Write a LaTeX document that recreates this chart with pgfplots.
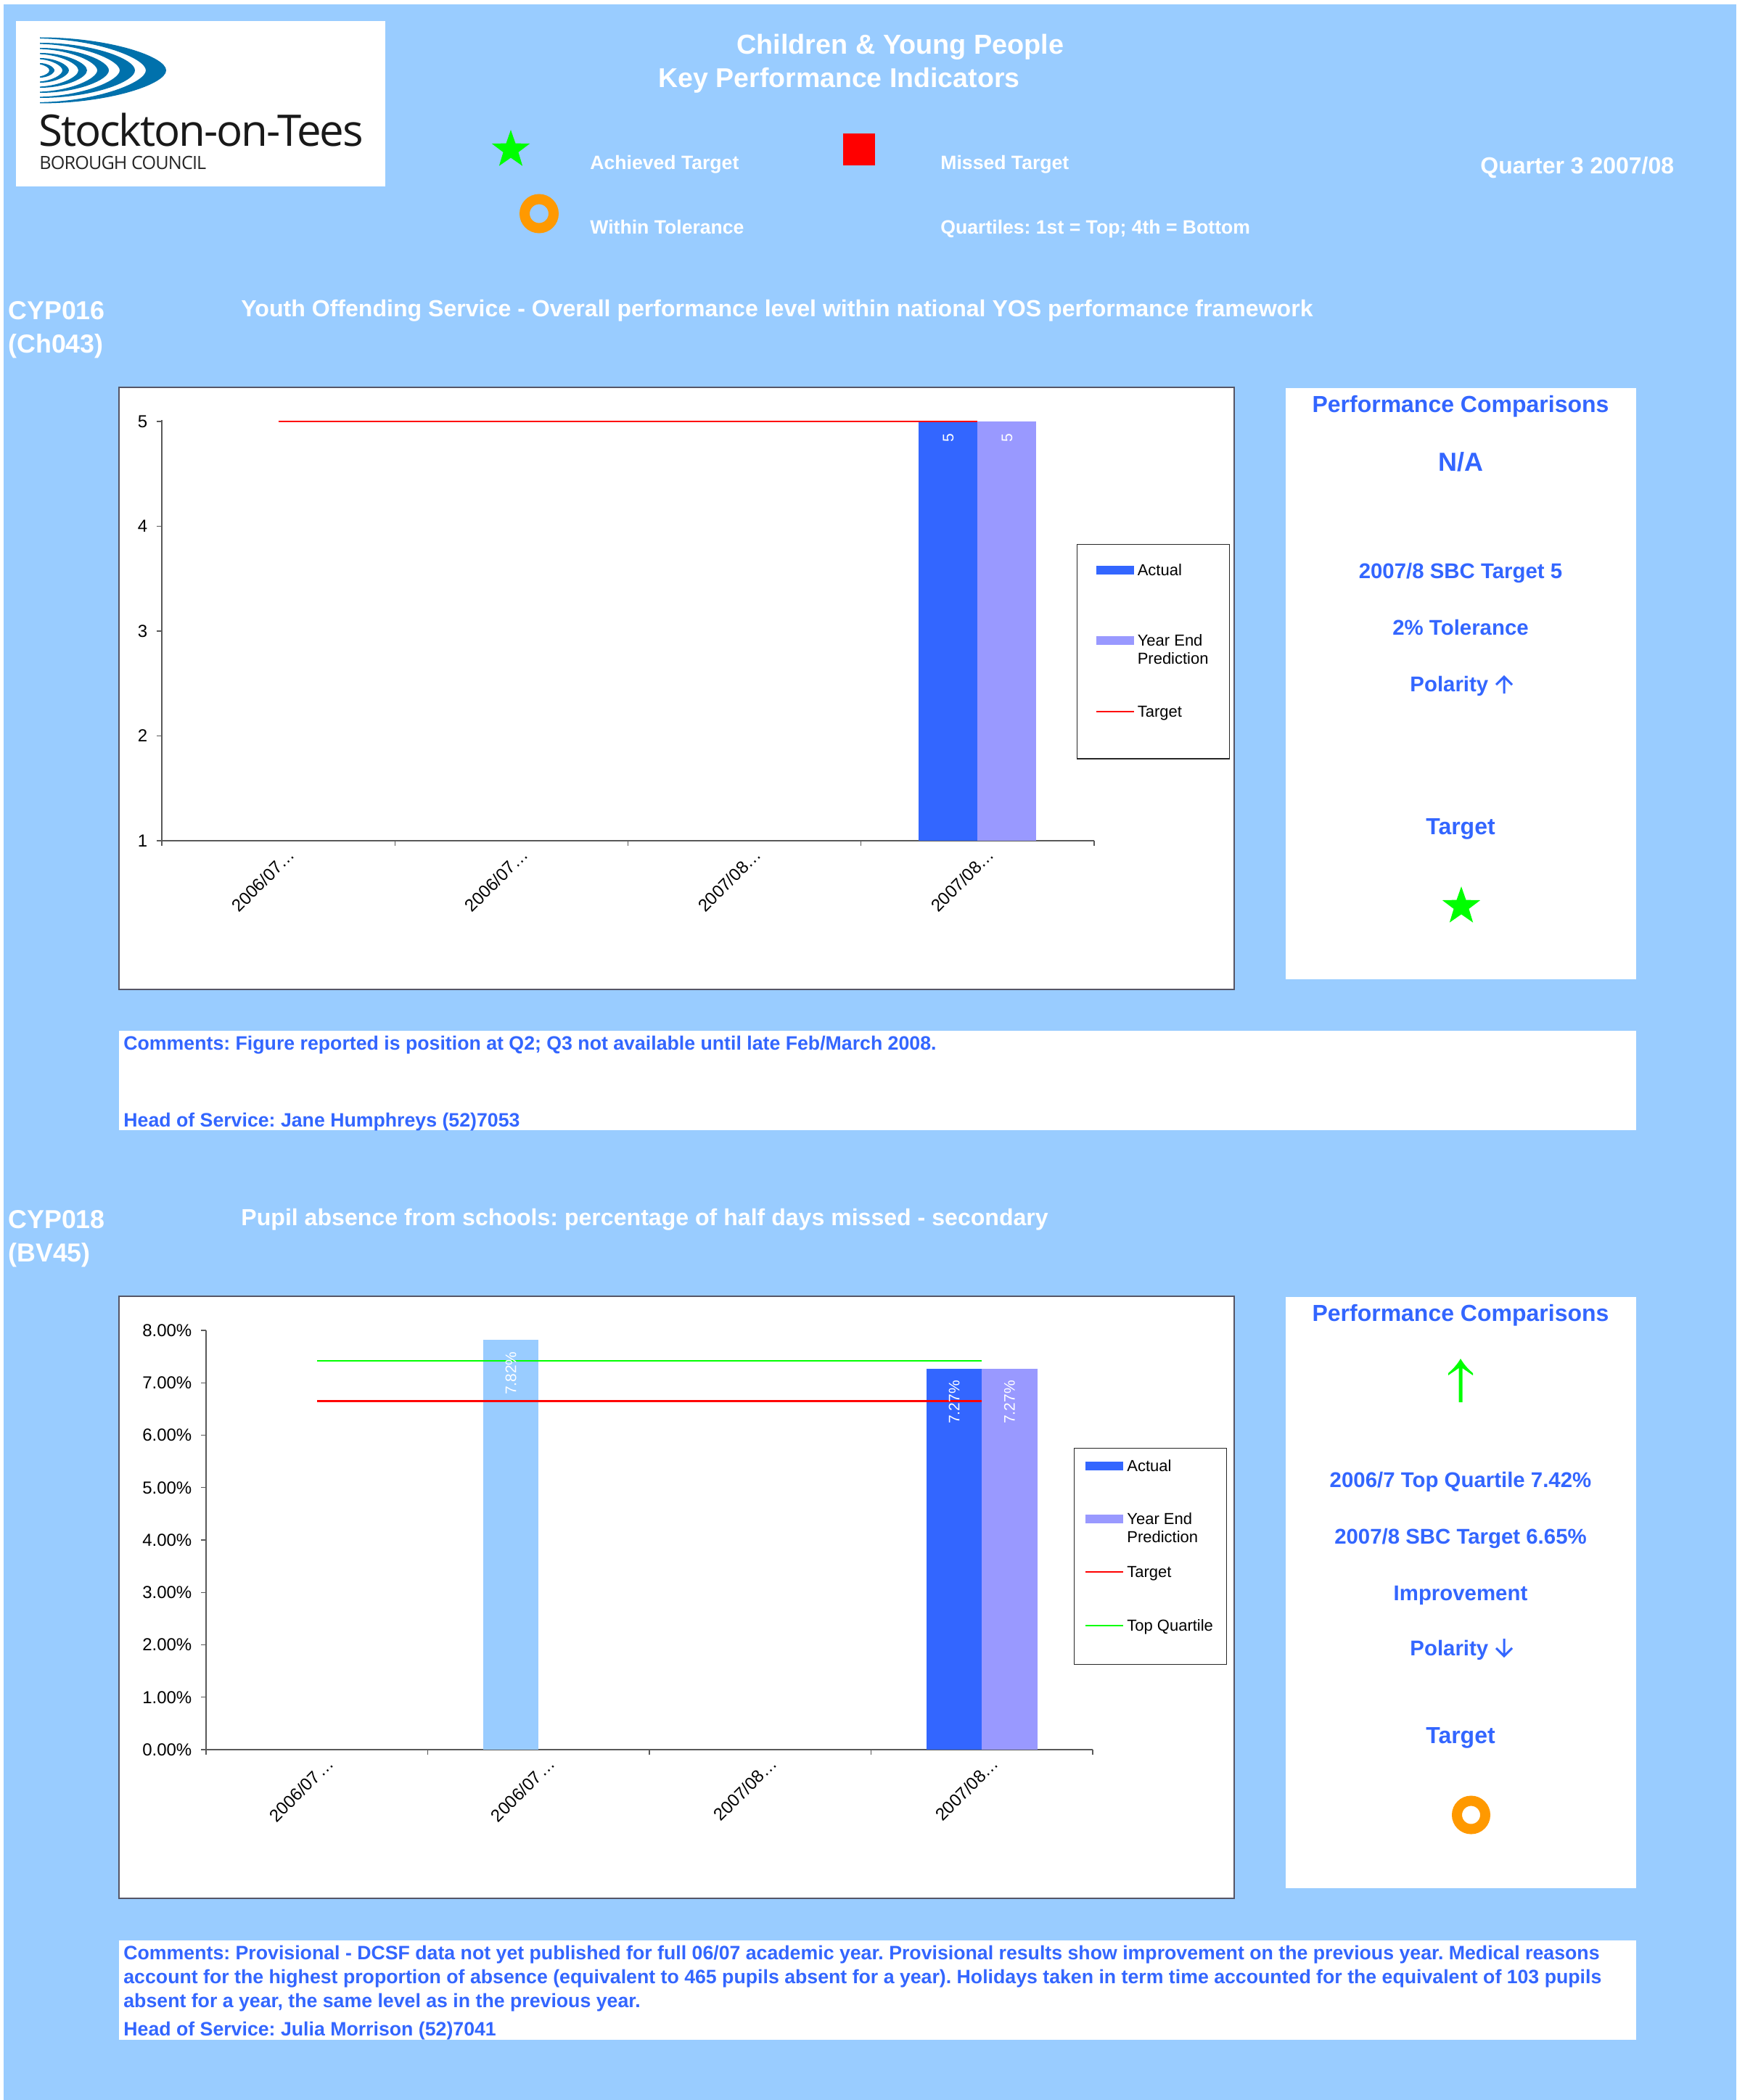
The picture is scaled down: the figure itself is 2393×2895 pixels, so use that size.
\documentclass[border=0pt]{standalone}
\usepackage{fontspec}
\setmainfont{Liberation Sans}
\newfontfamily\logofont[LetterSpace=-3.5]{Open Sans}
\usepackage{pgfplots}
\pgfplotsset{compat=1.18}
\usetikzlibrary{shapes.geometric}
\frenchspacing

\definecolor{pagebg}{HTML}{99CCFF}
\definecolor{kpiblue}{HTML}{3366FF}
\definecolor{yearend}{HTML}{9999FF}
\definecolor{kpigreen}{HTML}{00FF00}
\definecolor{kpired}{HTML}{FF0000}
\definecolor{kpiorange}{HTML}{FF9900}
\definecolor{logoblue}{HTML}{0071AC}
\definecolor{framegray}{HTML}{555566}

% page text: x, y (baseline, in pixels of the reference), size, text
\newcommand{\wtxt}[4]{\node[anchor=base west,inner sep=0pt,text=white,font=\fontsize{#3}{#3}\selectfont\bfseries] at (#1,#2) {#4};}
\newcommand{\btxt}[4]{\node[anchor=base west,inner sep=0pt,text=kpiblue,font=\fontsize{#3}{#3}\selectfont\bfseries] at (#1,#2) {#4};}
\newcommand{\ctxt}[4]{\node[anchor=base,inner sep=0pt,text=kpiblue,font=\fontsize{#3}{#3}\selectfont\bfseries] at (#1,#2) {#4};}
\newcommand{\kstar}[2]{\node[star,star points=5,star point ratio=2.5,fill=kpigreen,minimum size=27.5pt,inner sep=0pt] at (#1,#2) {};}
\newcommand{\crescent}[3]{\fill[logoblue] (55,97-#1) .. controls ({55+0.55*(#2-55)},97-#1) and (#2,{97-0.42*#1}) .. (#2,97)
  .. controls (#2,{97+0.42*#1}) and ({55+0.55*(#2-55)},97+#1) .. (55,97+#1) -- (55,{97+#1-1.6})
  .. controls ({55+0.55*(#3-55)},{97+#1-3}) and (#3,{97+0.36*#1}) .. (#3,97)
  .. controls (#3,{97-0.36*#1}) and ({55+0.55*(#3-55)},{97-#1+3}) .. (55,{97-#1+1.6}) -- cycle;}

\newcommand{\legtwo}[2]{\begin{tabular}[t]{@{}l@{}}#1\\#2\end{tabular}}
\newcommand{\pctlabel}{\pgfmathprintnumber[fixed,fixed zerofill,precision=2]{\pgfplotspointmeta}\%}

\pgfplotsset{
  kpi/.style={
    scale only axis,
    anchor=south west,
    xmin=0.5, xmax=4.5,
    axis x line*=bottom, axis y line*=left,
    axis line style={draw=black!65,line width=0.7pt},
    tick style={draw=black!65,line width=0.6pt},
    tick align=outside,
    major tick length=3.5pt,
    xtick={1,2,3,4},
    x tick style={draw=none},
    extra x ticks={0.5,1.5,2.5,3.5,4.5},
    extra x tick labels={},
    extra x tick style={x tick style={draw=black!65,line width=0.6pt}},
    ticklabel style={font=\fontsize{12}{14}\selectfont},
    xticklabel style={rotate=45,anchor=north east,xshift=7pt,yshift=-1.5pt},
    yticklabel style={xshift=-2.8pt},
    /pgf/number format/assume math mode=true,
    legend cell align=left,
  },
  swatch/.style={legend image code/.code={\fill[#1] (0pt,4.5pt) rectangle (26pt,10.5pt);}},
  rule/.style={legend image code/.code={\draw[#1,line width=1pt] (0pt,7.5pt) -- (26pt,7.5pt);}},
  barlabel/.style={
    nodes near coords style={xshift=#1,rotate=90,anchor=east,inner xsep=8pt,inner ysep=0pt,
      text=white,font=\fontsize{10.5}{12}\selectfont},
  },
}

\pgfplotstableread{
x target
1 5
2 5
3 5
4 5
}\targetA
\pgfplotstableread{
x target quartile
1 6.65 7.42
2 6.65 7.42
3 6.65 7.42
4 6.65 7.42
}\targetB

\begin{document}
\begin{tikzpicture}[x=0.5pt,y=-0.5pt]
\useasboundingbox (0,0) rectangle (2393,2895);
\fill[white] (0,0) rectangle (2393,2895);
\fill[pagebg] (5,6) rectangle (2393,2895);

% logo
\fill[white] (22,29) rectangle (531,257);
\crescent{45.5}{229}{201}
\crescent{38}{186}{165}
\crescent{31}{150}{134}
\crescent{24}{120}{108}
\crescent{17}{95}{86}
\crescent{10}{75}{68}
\node[anchor=base west,inner sep=0pt,text=black!90,font=\logofont\fontsize{30}{32}\selectfont] at (53,202) {Stockton-on-Tees};
\node[anchor=base west,inner sep=0pt,text=black!85,font=\logofont\fontsize{12.6}{14}\selectfont] at (54,234) {BOROUGH COUNCIL};

% header
\wtxt{1015}{75}{18.9}{Children \& Young People}
\wtxt{907}{121}{18.75}{Key Performance Indicators}
\kstar{704}{206.5}
\wtxt{813}{234}{13.3}{Achieved Target}
\fill[kpired] (1162,184) rectangle (1206,228);
\wtxt{1296}{234}{13.3}{Missed Target}
\draw[kpiorange,line width=7pt] (743,294.5) circle [radius=10pt];
\wtxt{813}{322}{13.3}{Within Tolerance}
\wtxt{1296}{322}{13.3}{Quartiles: 1st = Top; 4th = Bottom}
\wtxt{2040}{240}{16}{Quarter 3 2007/08}

% first indicator
\wtxt{11}{440}{17.9}{CYP016}
\wtxt{11}{486}{17.9}{(Ch043)}
\wtxt{332}{436}{16.04}{Youth Offending Service - Overall performance level within national YOS performance framework}
\fill[white,draw=framegray,line width=1pt] (164,534) rectangle (1701,1364);

\begin{axis}[kpi,
  at={(111.5pt,-579.5pt)},
  width=642.5pt, height=289.87pt,
  ymin=1, ymax=5.012, ytick={1,2,3,4,5},
  xticklabels={2006/07…,2006/07…,2007/08…,2007/08…},
  legend style={at={(0.9813,0.7053)},anchor=north west,draw=black!85,line width=0.6pt,
    inner xsep=12.6pt,inner ysep=10.5pt,row sep=19.8pt,nodes={text depth=},
    font=\fontsize{11}{12.5}\selectfont},
]
\addplot[ybar,bar width=40.5pt,bar shift=-20.25pt,fill=kpiblue,draw=none,swatch=kpiblue,
  barlabel=-20.25pt,nodes near coords] coordinates {(4,5)};
\addlegendentry{\legtwo{Actual}{~}}
\addplot[ybar,bar width=40.5pt,bar shift=20.25pt,fill=yearend,draw=none,swatch=yearend,
  barlabel=20.25pt,nodes near coords] coordinates {(4,5)};
\addlegendentry{\legtwo{Year End}{Prediction}}
\addplot[kpired,line width=1.25pt,rule=kpired] table[x=x,y=target] {\targetA};
\addlegendentry{\legtwo{Target}{~}}
\end{axis}

\fill[white] (1772,535) rectangle (2255,1350);
\ctxt{2013}{568}{16}{Performance Comparisons}
\ctxt{2013}{649}{18}{N/A}
\ctxt{2013}{797}{14.7}{2007/8 SBC Target 5}
\ctxt{2013}{875}{14.7}{2\% Tolerance}
\btxt{1943}{953}{14.7}{Polarity}
\draw[kpiblue,line width=1.5pt] (2073,956) -- (2073,934) (2062,944) -- (2073,933) -- (2084,944);
\ctxt{2013}{1150}{16}{Target}
\kstar{2014}{1249.5}

\fill[white] (164,1421) rectangle (2255,1558);
\btxt{170}{1447}{13.35}{Comments: Figure reported is position at Q2; Q3 not available until late Feb/March 2008.}
\btxt{170}{1553}{13.35}{Head of Service: Jane Humphreys (52)7053}

% second indicator
\wtxt{11}{1693}{17.9}{CYP018}
\wtxt{11}{1739}{17.9}{(BV45)}
\wtxt{332}{1689}{16.04}{Pupil absence from schools: percentage of half days missed - secondary}
\fill[white,draw=framegray,line width=1pt] (164,1787) rectangle (1701,2617);

\begin{axis}[kpi,
  at={(142pt,-1206pt)},
  width=611pt, height=289pt,
  ymin=0, ymax=8, ytick={0,1,2,3,4,5,6,7,8},
  yticklabels={0.00\%,1.00\%,2.00\%,3.00\%,4.00\%,5.00\%,6.00\%,7.00\%,8.00\%},
  xticklabels={2006/07\kern1pt…,2006/07\kern1pt…,2007/08…,2007/08…},
  legend style={at={(0.9787,0.7197)},anchor=north west,draw=black!85,line width=0.6pt,
    inner xsep=7.4pt,inner ysep=5pt,row sep=7.7pt,nodes={text depth=},
    font=\fontsize{11}{12.5}\selectfont},
]
\addplot[ybar,bar width=38.25pt,bar shift=-19.1pt,fill=pagebg,draw=none,forget plot,
  barlabel=-19.1pt,nodes near coords=\pctlabel] coordinates {(2,7.82)};
\addplot[ybar,bar width=38.25pt,bar shift=-19.1pt,fill=kpiblue,draw=none,swatch=kpiblue,
  barlabel=-19.1pt,nodes near coords=\pctlabel] coordinates {(4,7.27)};
\addlegendentry{\legtwo{Actual}{~}}
\addplot[ybar,bar width=38.25pt,bar shift=19.1pt,fill=yearend,draw=none,swatch=yearend,
  barlabel=19.1pt,nodes near coords=\pctlabel] coordinates {(4,7.27)};
\addlegendentry{\legtwo{Year End}{Prediction}}
\addplot[kpired,line width=1.25pt,rule=kpired] table[x=x,y=target] {\targetB};
\addlegendentry{\legtwo{Target}{~}}
\addplot[kpigreen,line width=1.25pt,rule=kpigreen] table[x=x,y=quartile] {\targetB};
\addlegendentry{\legtwo{Top Quartile}{~}}
\end{axis}

\fill[white] (1772,1788) rectangle (2255,2603);
\ctxt{2013}{1821}{16}{Performance Comparisons}
\fill[kpigreen] (2010.5,1933) -- (2010.5,1886) .. controls (2005,1890) and (2000,1893) .. (1996,1896) -- (1996,1893)
  .. controls (2004,1886) and (2009,1880) .. (2013,1873) .. controls (2017,1880) and (2022,1886) .. (2030,1893) -- (2030,1896)
  .. controls (2026,1893) and (2021,1890) .. (2015.5,1886) -- (2015.5,1933) -- cycle;
\ctxt{2013}{2050}{14.7}{2006/7 Top Quartile 7.42\%}
\ctxt{2013}{2128}{14.7}{2007/8 SBC Target 6.65\%}
\ctxt{2013}{2206}{14.7}{Improvement}
\btxt{1943}{2282}{14.7}{Polarity}
\draw[kpiblue,line width=1.5pt] (2073,2259) -- (2073,2282) (2062,2272) -- (2073,2283) -- (2084,2272);
\ctxt{2013}{2403}{16}{Target}
\draw[kpiorange,line width=7pt] (2027.5,2502) circle [radius=9.75pt];

\fill[white] (164,2675) rectangle (2255,2812);
\btxt{170}{2701}{13.35}{Comments: Provisional - DCSF data not yet published for full 06/07 academic year. Provisional results show improvement on the previous year. Medical reasons}
\btxt{170}{2734}{13.35}{account for the highest proportion of absence (equivalent to 465 pupils absent for a year). Holidays taken in term time accounted for the equivalent of 103 pupils}
\btxt{170}{2767}{13.35}{absent for a year, the same level as in the previous year.}
\btxt{170}{2806}{13.35}{Head of Service: Julia Morrison (52)7041}
\end{tikzpicture}
\end{document}
